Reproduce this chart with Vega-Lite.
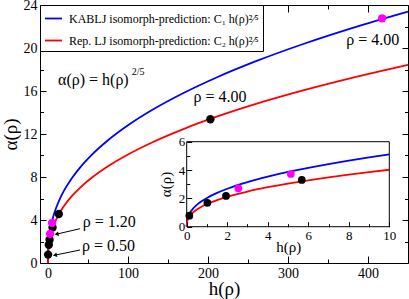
{
  "$schema": "https://vega.github.io/schema/vega-lite/v6.json",
  "width": 368,
  "height": 258,
  "autosize": {"type": "none"},
  "padding": {"left": 40, "top": 5, "right": 1, "bottom": 36},
  "config": {
    "font": "Liberation Serif",
    "view": {"stroke": "black", "strokeWidth": 1},
    "axis": {
      "domain": false,
      "grid": false,
      "labelFontSize": 14,
      "labelColor": "black",
      "titleColor": "black",
      "titleFontWeight": "normal",
      "tickColor": "black",
      "labelOverlap": false,
      "labelFlush": false
    },
    "legend": {
      "orient": "top-left",
      "offset": 0,
      "strokeColor": "black",
      "fillColor": "white",
      "padding": 4,
      "cornerRadius": 0,
      "labelFontSize": 12,
      "labelFont": "Liberation Serif",
      "labelColor": "black",
      "symbolType": "stroke",
      "symbolStrokeWidth": 1.8,
      "symbolSize": 289,
      "labelOffset": 6,
      "rowPadding": 6,
      "labelLimit": 400
    }
  },
  "datasets": {
    "curves": [
      {"h": 0, "a": 0, "s": "KABLJ"}, {"h": 0, "a": 0, "s": "Rep. LJ"},
      {"h": 0.01, "a": 0.322, "s": "KABLJ"}, {"h": 0.01, "a": 0.254, "s": "Rep. LJ"},
      {"h": 0.05, "a": 0.612, "s": "KABLJ"}, {"h": 0.05, "a": 0.483, "s": "Rep. LJ"},
      {"h": 0.1, "a": 0.808, "s": "KABLJ"}, {"h": 0.1, "a": 0.637, "s": "Rep. LJ"},
      {"h": 0.2, "a": 1.066, "s": "KABLJ"}, {"h": 0.2, "a": 0.840, "s": "Rep. LJ"},
      {"h": 0.3, "a": 1.254, "s": "KABLJ"}, {"h": 0.3, "a": 0.988, "s": "Rep. LJ"},
      {"h": 0.5, "a": 1.539, "s": "KABLJ"}, {"h": 0.5, "a": 1.213, "s": "Rep. LJ"},
      {"h": 0.75, "a": 1.809, "s": "KABLJ"}, {"h": 0.75, "a": 1.426, "s": "Rep. LJ"},
      {"h": 1, "a": 2.03, "s": "KABLJ"}, {"h": 1, "a": 1.6, "s": "Rep. LJ"},
      {"h": 1.5, "a": 2.387, "s": "KABLJ"}, {"h": 1.5, "a": 1.882, "s": "Rep. LJ"},
      {"h": 2, "a": 2.679, "s": "KABLJ"}, {"h": 2, "a": 2.111, "s": "Rep. LJ"},
      {"h": 3, "a": 3.150, "s": "KABLJ"}, {"h": 3, "a": 2.483, "s": "Rep. LJ"},
      {"h": 4, "a": 3.534, "s": "KABLJ"}, {"h": 4, "a": 2.786, "s": "Rep. LJ"},
      {"h": 5, "a": 3.865, "s": "KABLJ"}, {"h": 5, "a": 3.046, "s": "Rep. LJ"},
      {"h": 6, "a": 4.157, "s": "KABLJ"}, {"h": 6, "a": 3.276, "s": "Rep. LJ"},
      {"h": 7, "a": 4.421, "s": "KABLJ"}, {"h": 7, "a": 3.485, "s": "Rep. LJ"},
      {"h": 8, "a": 4.664, "s": "KABLJ"}, {"h": 8, "a": 3.676, "s": "Rep. LJ"},
      {"h": 9, "a": 4.889, "s": "KABLJ"}, {"h": 9, "a": 3.853, "s": "Rep. LJ"},
      {"h": 10, "a": 5.099, "s": "KABLJ"}, {"h": 10, "a": 4.019, "s": "Rep. LJ"},
      {"h": 15, "a": 5.997, "s": "KABLJ"}, {"h": 15, "a": 4.727, "s": "Rep. LJ"},
      {"h": 20, "a": 6.728, "s": "KABLJ"}, {"h": 20, "a": 5.303, "s": "Rep. LJ"},
      {"h": 30, "a": 7.913, "s": "KABLJ"}, {"h": 30, "a": 6.237, "s": "Rep. LJ"},
      {"h": 40, "a": 8.878, "s": "KABLJ"}, {"h": 40, "a": 6.997, "s": "Rep. LJ"},
      {"h": 55, "a": 10.083, "s": "KABLJ"}, {"h": 55, "a": 7.947, "s": "Rep. LJ"},
      {"h": 75, "a": 11.417, "s": "KABLJ"}, {"h": 75, "a": 8.998, "s": "Rep. LJ"},
      {"h": 100, "a": 12.808, "s": "KABLJ"}, {"h": 100, "a": 10.095, "s": "Rep. LJ"},
      {"h": 130, "a": 14.226, "s": "KABLJ"}, {"h": 130, "a": 11.213, "s": "Rep. LJ"},
      {"h": 170, "a": 15.836, "s": "KABLJ"}, {"h": 170, "a": 12.482, "s": "Rep. LJ"},
      {"h": 210, "a": 17.235, "s": "KABLJ"}, {"h": 210, "a": 13.584, "s": "Rep. LJ"},
      {"h": 260, "a": 18.771, "s": "KABLJ"}, {"h": 260, "a": 14.795, "s": "Rep. LJ"},
      {"h": 320, "a": 20.395, "s": "KABLJ"}, {"h": 320, "a": 16.075, "s": "Rep. LJ"},
      {"h": 380, "a": 21.849, "s": "KABLJ"}, {"h": 380, "a": 17.221, "s": "Rep. LJ"},
      {"h": 450, "a": 23.377, "s": "KABLJ"}, {"h": 450, "a": 18.426, "s": "Rep. LJ"}
    ],
    "points": [
      {"h": 0.13, "a": 0.78, "set": "Rep. LJ"},
      {"h": 1.02, "a": 1.69, "set": "Rep. LJ"},
      {"h": 1.94, "a": 2.17, "set": "Rep. LJ"},
      {"h": 5.68, "a": 3.30, "set": "Rep. LJ"},
      {"h": 13.5, "a": 4.56, "set": "Rep. LJ"},
      {"h": 203, "a": 13.37, "set": "Rep. LJ"},
      {"h": 2.55, "a": 2.71, "set": "KABLJ"},
      {"h": 5.14, "a": 3.72, "set": "KABLJ"},
      {"h": 417.7, "a": 22.76, "set": "KABLJ"}
    ],
    "labels": [
      {"h": 406, "a": 20.74, "t": "ρ = 4.00"},
      {"h": 215, "a": 15.44, "t": "ρ = 4.00"},
      {"h": 76.5, "a": 3.84, "t": "ρ = 1.20"},
      {"h": 75.5, "a": 1.58, "t": "ρ = 0.50"}
    ],
    "arrows": [
      {"h": 40, "a": 3.19, "h2": 11.5, "a2": 2.70},
      {"h": 40, "a": 1.21, "h2": 9.4, "a2": 0.74}
    ]
  },
  "layer": [
    {
      "layer": [
        {
          "data": {"name": "curves"},
          "mark": {"type": "line", "strokeWidth": 1.8, "interpolate": "monotone"},
          "encoding": {
            "x": {
              "field": "h", "type": "quantitative",
              "scale": {"domain": [-10, 450], "nice": false, "zero": false},
              "axis": {
                "orient": "bottom",
                "values": [0, 50, 100, 150, 200, 250, 300, 350, 400],
                "labelExpr": "datum.value % 100 === 0 ? datum.label : ''",
                "tickSize": {"condition": {"test": "datum.value % 100 === 0", "value": -7}, "value": -4},
                "labelPadding": 10,
                "title": "h(ρ)", "titleFontSize": 19,
                "titleX": 184, "titleY": 25, "titleBaseline": "middle", "titleAlign": "center"
              }
            },
            "y": {
              "field": "a", "type": "quantitative",
              "scale": {"domain": [0, 24], "nice": false, "zero": false},
              "axis": {
                "orient": "left",
                "values": [0, 2, 4, 6, 8, 10, 12, 14, 16, 18, 20, 22, 24],
                "labelExpr": "datum.value % 4 === 0 ? datum.label : ''",
                "tickSize": {"condition": {"test": "datum.value % 4 === 0", "value": -6}, "value": -3.5},
                "labelPadding": 9,
                "title": "α(ρ)", "titleFontSize": 19,
                "titleX": -30, "titleY": 129, "titleBaseline": "middle", "titleAlign": "center", "titleAngle": -90
              }
            },
            "color": {
              "field": "s", "type": "nominal",
              "scale": {"domain": ["KABLJ", "Rep. LJ"], "range": ["#0000ff", "#ff0000"]},
              "legend": {
                "title": null,
                "labelExpr": "datum.value == 'KABLJ' ? 'KABLJ isomorph-prediction: C₁ h(ρ)²⁄⁵' : 'Rep. LJ isomorph-prediction: C₂ h(ρ)²⁄⁵'"
              }
            }
          }
        },
        {
          "data": {"name": "points"},
          "mark": {"type": "point", "filled": true, "size": 70, "opacity": 1},
          "encoding": {
            "x": {
              "field": "h", "type": "quantitative",
              "axis": {
                "orient": "top",
                "values": [0, 50, 100, 150, 200, 250, 300, 350, 400],
                "labels": false,
                "tickSize": {"condition": {"test": "datum.value % 100 === 0", "value": -7}, "value": -4},
                "title": null
              }
            },
            "y": {
              "field": "a", "type": "quantitative",
              "axis": {
                "orient": "right",
                "values": [0, 2, 4, 6, 8, 10, 12, 14, 16, 18, 20, 22, 24],
                "labels": false,
                "tickSize": {"condition": {"test": "datum.value % 4 === 0", "value": -6}, "value": -3.5},
                "title": null
              }
            },
            "fill": {
              "field": "set", "type": "nominal",
              "scale": {"domain": ["KABLJ", "Rep. LJ"], "range": ["#ff00ff", "#000000"]},
              "legend": null
            }
          }
        },
        {
          "data": {"name": "labels"},
          "mark": {"type": "text", "fontSize": 16, "align": "center", "baseline": "middle", "color": "black"},
          "encoding": {
            "x": {"field": "h", "type": "quantitative", "axis": null},
            "y": {"field": "a", "type": "quantitative", "axis": null},
            "text": {"field": "t"}
          }
        },
        {
          "data": {"values": [{"h": 12.5, "a": 17.02, "t": "α(ρ) = h(ρ)"}]},
          "mark": {"type": "text", "fontSize": 16, "align": "left", "baseline": "middle", "color": "black"},
          "encoding": {
            "x": {"field": "h", "type": "quantitative", "axis": null},
            "y": {"field": "a", "type": "quantitative", "axis": null},
            "text": {"field": "t"}
          }
        },
        {
          "data": {"values": [{"h": 104.6, "a": 17.8, "t": "2/5"}]},
          "mark": {"type": "text", "fontSize": 10, "align": "left", "baseline": "middle", "color": "black"},
          "encoding": {
            "x": {"field": "h", "type": "quantitative", "axis": null},
            "y": {"field": "a", "type": "quantitative", "axis": null},
            "text": {"field": "t"}
          }
        },
        {
          "data": {"name": "arrows"},
          "mark": {"type": "rule", "color": "black", "strokeWidth": 1},
          "encoding": {
            "x": {"field": "h", "type": "quantitative", "axis": null},
            "y": {"field": "a", "type": "quantitative", "axis": null},
            "x2": {"field": "h2"},
            "y2": {"field": "a2"}
          }
        },
        {
          "data": {"name": "arrows"},
          "mark": {"type": "point", "shape": "triangle", "filled": true, "color": "black", "size": 22, "angle": 258, "opacity": 1},
          "encoding": {
            "x": {"field": "h2", "type": "quantitative", "axis": null},
            "y": {"field": "a2", "type": "quantitative", "axis": null}
          }
        }
      ],
      "resolve": {"axis": {"x": "independent", "y": "independent"}}
    },
    {
      "layer": [
        {
          "data": {"values": [{"x0": 0, "x1": 10, "y0": 0, "y1": 6}]},
          "mark": {"type": "rect", "fill": "white", "stroke": "black", "strokeWidth": 1, "opacity": 1},
          "encoding": {
            "x": {
              "field": "x0", "type": "quantitative",
              "scale": {"domain": [-7.241, 10.923], "nice": false, "zero": false},
              "axis": {
                "orient": "bottom", "offset": -36.3, "zindex": 1,
                "values": [0, 1, 2, 3, 4, 5, 6, 7, 8, 9, 10],
                "labelExpr": "datum.value % 2 === 0 ? datum.label : ''",
                "tickSize": {"condition": {"test": "datum.value % 2 === 0", "value": -5}, "value": -3},
                "labelPadding": 8, "labelFontSize": 13,
                "title": "h(ρ)", "titleFontSize": 15,
                "titleX": 248.3, "titleY": 20, "titleBaseline": "middle", "titleAlign": "center"
              }
            },
            "x2": {"field": "x1"},
            "y": {
              "field": "y0", "type": "quantitative",
              "scale": {"domain": [-2.562, 15.649], "nice": false, "zero": false},
              "axis": {
                "orient": "left", "offset": -146.7, "zindex": 1,
                "values": [0, 1, 2, 3, 4, 5, 6],
                "labelExpr": "datum.value % 2 === 0 ? datum.label : ''",
                "tickSize": {"condition": {"test": "datum.value % 2 === 0", "value": -5}, "value": -3},
                "labelPadding": 7, "labelFontSize": 13,
                "title": "α(ρ)", "titleFontSize": 15,
                "titleX": -21, "titleY": 179, "titleBaseline": "middle", "titleAlign": "center", "titleAngle": -90
              }
            },
            "y2": {"field": "y1"}
          }
        },
        {
          "data": {"name": "curves"},
          "transform": [{"filter": "datum.h <= 10"}],
          "mark": {"type": "line", "strokeWidth": 1.8, "interpolate": "monotone"},
          "encoding": {
            "x": {"field": "h", "type": "quantitative", "axis": null},
            "y": {"field": "a", "type": "quantitative", "axis": null},
            "color": {"field": "s", "type": "nominal"}
          }
        },
        {
          "data": {"name": "points"},
          "transform": [{"filter": "datum.h <= 10"}],
          "mark": {"type": "point", "filled": true, "size": 60, "opacity": 1},
          "encoding": {
            "x": {"field": "h", "type": "quantitative", "axis": null},
            "y": {"field": "a", "type": "quantitative", "axis": null},
            "fill": {"field": "set", "type": "nominal"}
          }
        }
      ],
      "resolve": {"axis": {"x": "independent", "y": "independent"}}
    }
  ],
  "resolve": {"scale": {"x": "independent", "y": "independent"}}
}
